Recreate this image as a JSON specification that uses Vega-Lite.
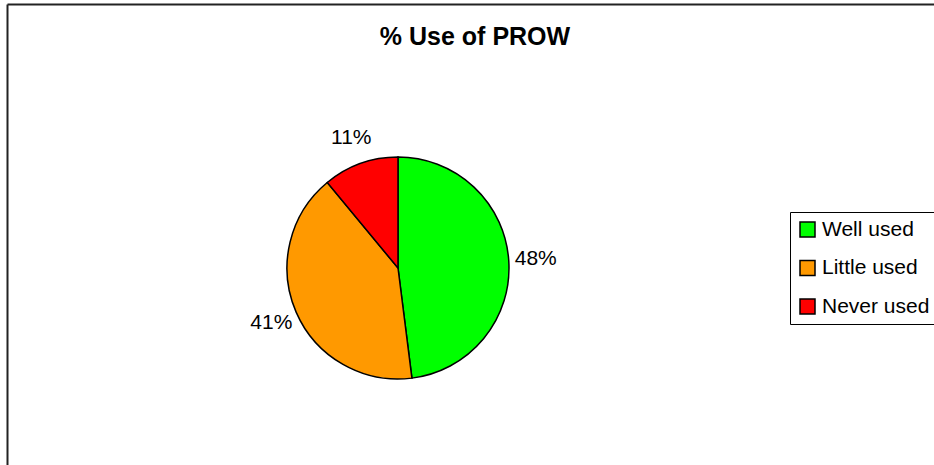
{
  "$schema": "https://vega.github.io/schema/vega-lite/v6.json",
  "width": 782,
  "height": 528,
  "autosize": {"type": "none"},
  "padding": {"left": 7, "top": 4, "right": 145, "bottom": 0},
  "background": "white",
  "config": {"view": {"stroke": null}, "font": "Liberation Sans"},
  "title": {
    "text": "% Use of PROW",
    "fontSize": 25,
    "fontWeight": "bold",
    "font": "Liberation Sans",
    "color": "black",
    "anchor": "middle",
    "offset": 0,
    "dx": 77,
    "dy": 69,
    "baseline": "alphabetic"
  },
  "data": {
    "values": [
      {"category": "Well used", "value": 0.48},
      {"category": "Little used", "value": 0.41},
      {"category": "Never used", "value": 0.11}
    ]
  },
  "layer": [
    {
      "mark": {"type": "point", "opacity": 0},
      "encoding": {
        "x": {
          "datum": 0,
          "type": "quantitative",
          "scale": {"domain": [0, 1], "range": [0, 930]},
          "axis": {"orient": "top", "domain": true, "domainColor": "#222", "domainWidth": 2, "ticks": false, "labels": false, "grid": false, "title": null}
        },
        "y": {
          "datum": 0,
          "type": "quantitative",
          "scale": {"domain": [0, 1], "range": [0, 470]},
          "axis": {"orient": "left", "domain": true, "domainColor": "#222", "domainWidth": 2, "ticks": false, "labels": false, "grid": false, "title": null}
        }
      }
    },
    {
      "mark": {"type": "arc", "outerRadius": 111, "stroke": "black", "strokeWidth": 1.5},
      "encoding": {
        "theta": {"field": "value", "type": "quantitative", "stack": true},
        "order": {"field": "value", "sort": "descending"},
        "color": {
          "field": "category",
          "type": "nominal",
          "sort": ["Well used", "Little used", "Never used"],
          "scale": {"domain": ["Well used", "Little used", "Never used"], "range": ["#00FF00", "#FF9900", "#FF0000"]},
          "legend": {
            "orient": "none",
            "legendX": 783,
            "legendY": 208,
            "title": null,
            "strokeColor": "black",
            "fillColor": "white",
            "padding": 7,
            "symbolType": "square",
            "symbolSize": 225,
            "symbolStrokeColor": "black",
            "symbolStrokeWidth": 1.5,
            "labelFontSize": 21,
            "labelFont": "Liberation Sans",
            "labelColor": "black",
            "rowPadding": 16.5,
            "labelOffset": 4
          }
        }
      }
    },
    {
      "mark": {"type": "text", "radius": 138, "fontSize": 21, "font": "Liberation Sans", "color": "black", "align": "center", "baseline": "middle"},
      "encoding": {
        "theta": {"field": "value", "type": "quantitative", "stack": true},
        "order": {"field": "value", "sort": "descending"},
        "text": {"field": "value", "type": "quantitative", "format": ".0%"}
      }
    }
  ]
}
